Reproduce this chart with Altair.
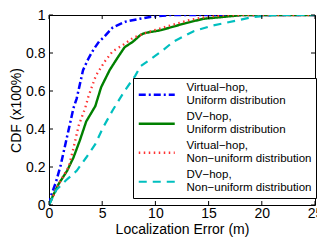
import altair as alt
import pandas as pd

series_names = [
    "Virtual\u2212hop,|Uniform distribution",
    "DV\u2212hop,|Uniform distribution",
    "Virtual\u2212hop,|Non\u2212uniform distribution",
    "DV\u2212hop,|Non\u2212uniform distribution",
]
series_colors = ["#0000FF", "#008000", "#FF3333", "#00BFBF"]
series_dashes = [[7, 3, 2, 3], [1, 0], [1.5, 3.5], [8, 6]]
series_widths = [2.5, 2.2, 1.2, 2.2]

vh_uni_x = [0, 0.2, 0.65, 1.1, 1.7, 2.3, 2.6, 3.2, 3.7, 4.2, 4.7, 5.1, 6.0, 7.2, 8.5, 9.5, 11.4, 25]
vh_uni_y = [0, 0.05, 0.12, 0.21, 0.36, 0.51, 0.56, 0.71, 0.77, 0.82, 0.86, 0.88, 0.935, 0.965, 0.98, 0.99, 1.0, 1.0]

dv_uni_x = [0, 0.3, 0.9, 1.7, 2.3, 2.9, 3.5, 4.35, 4.9, 5.7, 6.5, 7.1, 7.9, 8.6, 9.0, 10.5, 12.7, 14.5, 16.4, 18.2, 25]
dv_uni_y = [0, 0.04, 0.11, 0.18, 0.25, 0.34, 0.44, 0.52, 0.62, 0.71, 0.78, 0.83, 0.86, 0.895, 0.905, 0.92, 0.955, 0.98, 0.99, 1.0, 1.0]

vh_non_x = [0, 0.5, 1.1, 1.85, 2.3, 2.8, 3.4, 3.7, 4.4, 5.3, 6.0, 6.9, 7.9, 9.3, 11.4, 13.3, 14.8, 17, 25]
vh_non_y = [0, 0.06, 0.13, 0.2, 0.30, 0.42, 0.51, 0.57, 0.68, 0.76, 0.81, 0.84, 0.88, 0.91, 0.945, 0.975, 0.99, 1.0, 1.0]

dv_non_x = [0, 0.7, 1.6, 2.6, 3.5, 4.35, 5.1, 6.0, 7.1, 8.1, 8.6, 10.6, 11.7, 13.6, 15.4, 17.6, 19.2, 21.3, 25]
dv_non_y = [0, 0.08, 0.13, 0.18, 0.25, 0.32, 0.41, 0.5, 0.6, 0.68, 0.73, 0.81, 0.86, 0.915, 0.945, 0.97, 0.99, 1.0, 1.0]

x_ticks = [0, 5, 10, 15, 20, 25]
y_ticks = [0, 0.2, 0.4, 0.6, 0.8, 1.0]

W, H = 266, 190
FONT = "Liberation Sans"
TICK_PX = 4

rows = []
for name, xs, ys in zip(series_names,
                        [vh_uni_x, dv_uni_x, vh_non_x, dv_non_x],
                        [vh_uni_y, dv_uni_y, vh_non_y, dv_non_y]):
    for i, (xv, yv) in enumerate(zip(xs, ys)):
        rows.append({"series": name, "x": xv, "y": yv, "i": i})
df = pd.DataFrame(rows)

xdom = [x_ticks[0], x_ticks[-1]]
ydom = [y_ticks[0], y_ticks[-1]]
tlx = TICK_PX / W * (xdom[1] - xdom[0])
tly = TICK_PX / H * (ydom[1] - ydom[0])

tick_rows = []
for t in x_ticks:
    tick_rows.append({"x": t, "x2": t, "y": ydom[0], "y2": ydom[0] + tly})
    tick_rows.append({"x": t, "x2": t, "y": ydom[1] - tly, "y2": ydom[1]})
for t in y_ticks:
    tick_rows.append({"x": xdom[0], "x2": xdom[0] + tlx, "y": t, "y2": t})
    tick_rows.append({"x": xdom[1] - tlx, "x2": xdom[1], "y": t, "y2": t})
ticks_df = pd.DataFrame(tick_rows)

xscale = alt.Scale(domain=xdom, nice=False, zero=False)
yscale = alt.Scale(domain=ydom, nice=False, zero=False)

xaxis = alt.Axis(values=x_ticks, title="Localization Error (m)", format="~g",
                 labelOverlap=False, labelFlush=False)
yaxis = alt.Axis(values=y_ticks, title="CDF (x100%)", format="~g",
                 labelOverlap=False, labelFlush=False)

legend = alt.Legend(
    title=None,
    orient="none",
    legendX=84,
    legendY=63,
    labelExpr="split(datum.label, '|')",
)

lines = alt.Chart(df).mark_line(clip=True).encode(
    x=alt.X("x:Q", scale=xscale, axis=xaxis),
    y=alt.Y("y:Q", scale=yscale, axis=yaxis),
    color=alt.Color("series:N", scale=alt.Scale(domain=series_names, range=series_colors),
                    legend=legend),
    strokeDash=alt.StrokeDash("series:N", scale=alt.Scale(domain=series_names, range=series_dashes),
                              legend=legend),
    strokeWidth=alt.StrokeWidth("series:N", scale=alt.Scale(domain=series_names, range=series_widths),
                                legend=legend),
    order=alt.Order("i:Q"),
)

tick_marks = alt.Chart(ticks_df).mark_rule(color="black", strokeWidth=1).encode(
    x=alt.X("x:Q", scale=xscale, axis=xaxis),
    x2="x2:Q",
    y=alt.Y("y:Q", scale=yscale, axis=yaxis),
    y2="y2:Q",
)

chart = alt.layer(lines, tick_marks).properties(
    width=W,
    height=H,
    padding={"left": 41, "top": 7, "right": 2, "bottom": 36},
    autosize=alt.AutoSizeParams(type="none"),
).configure_view(
    stroke="black", strokeWidth=1
).configure_axis(
    grid=False,
    domain=False,
    ticks=False,
    tickSize=0,
    labelFont=FONT,
    labelFontSize=14,
    labelColor="black",
    titleFont=FONT,
    titleFontSize=14,
    titleFontWeight="normal",
    titleColor="black",
).configure_axisX(
    labelPadding=1,
    titlePadding=2,
).configure_axisY(
    labelPadding=4,
    titlePadding=2,
).configure_legend(
    padding=4,
    strokeColor="black",
    fillColor="white",
    cornerRadius=0,
    symbolType="M-4.5,1.75H4.5",
    symbolSize=64,
    symbolOffset=14,
    labelOffset=24,
    rowPadding=3,
    labelFont=FONT,
    labelFontSize=11.5,
    labelColor="black",
    labelLimit=250,
)

chart.save("out.html", embed_options={"renderer": "svg", "actions": False})
